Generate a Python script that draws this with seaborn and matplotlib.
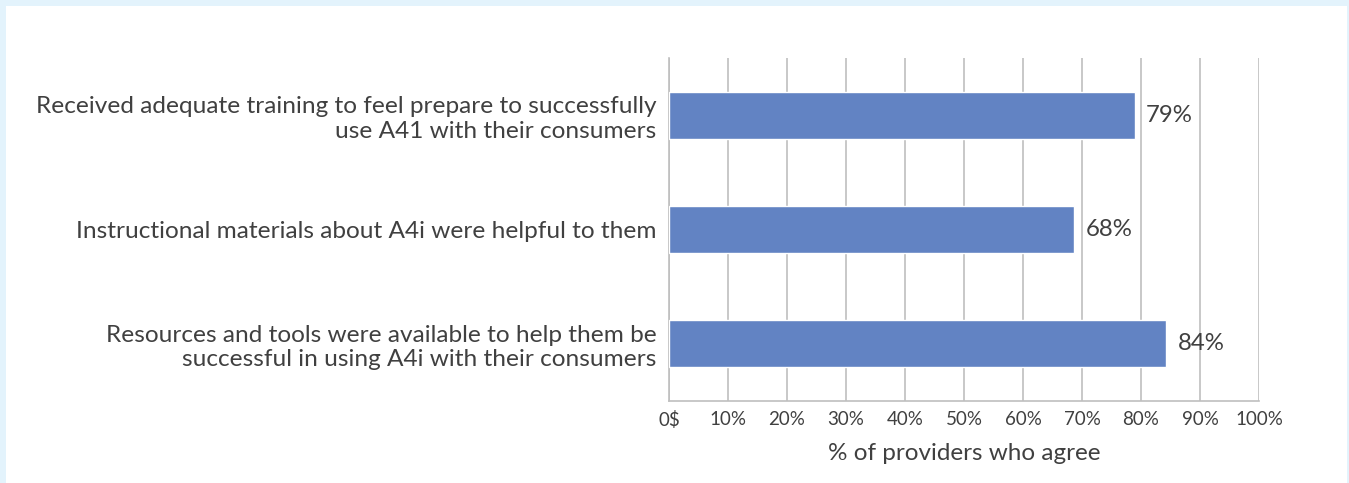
import matplotlib
matplotlib.use('Agg')
import matplotlib.pyplot as plt
import seaborn as sns
from matplotlib.patches import Rectangle

# Data
statements = [
    'Received adequate training to feel prepare to successfully\nuse A41 with their consumers',
    'Instructional materials about A4i were helpful to them',
    'Resources and tools were available to help them be\nsuccessful in using A4i with their consumers',
]
pct_agree = [79, 68.7, 84.3]
value_labels = ['79%', '68%', '84%']
x_ticks = [0, 10, 20, 30, 40, 50, 60, 70, 80, 90, 100]
x_tick_labels = ['0$', '10%', '20%', '30%', '40%', '50%', '60%', '70%', '80%', '90%', '100%']

sns.set_style('white')
plt.rcParams['font.family'] = ['Lato', 'DejaVu Sans']
text_col = '#404040'
grid_col = '#bfbfbf'

fig = plt.figure(figsize=(13.49, 4.83), dpi=100)
fig.patch.set_facecolor('#e3f3fc')
# white panel inside the light blue frame
fig.patches.append(Rectangle((6 / 1349, 0), 1341 / 1349, 477 / 483,
                             transform=fig.transFigure, facecolor='white',
                             edgecolor='none', zorder=-10))

ax = fig.add_axes([669 / 1349, 1 - 401 / 483, 590 / 1349, 343 / 483])
ax.set_facecolor('none')

sns.barplot(x=pct_agree, y=statements, orient='h', color='#6283c3',
            width=0.41, saturation=1, ax=ax, zorder=3)

ax.set_xlim(0, 100)
ax.set_ylim(2.5, -0.5)
ax.set_xticks(x_ticks)
ax.set_xticklabels(x_tick_labels, fontsize=13.5, color=text_col)
ax.tick_params(axis='x', length=0, pad=7)
ax.tick_params(axis='y', length=0, pad=9, labelsize=17.6, labelcolor=text_col)
for lbl in ax.get_yticklabels():
    lbl.set_linespacing(1.2)

ax.grid(axis='x', color=grid_col, linewidth=1.2, zorder=0)
ax.set_axisbelow(True)
sns.despine(ax=ax, top=True, right=True)
for side in ['left', 'bottom']:
    ax.spines[side].set_color(grid_col)
    ax.spines[side].set_linewidth(1.2)

ax.bar_label(ax.containers[0], labels=value_labels, padding=8,
             fontsize=17.3, color=text_col)

ax.set_xlabel('% of providers who agree', fontsize=17.5, color=text_col, labelpad=10)
ax.set_ylabel('')

fig.savefig('out.png', dpi=100)
